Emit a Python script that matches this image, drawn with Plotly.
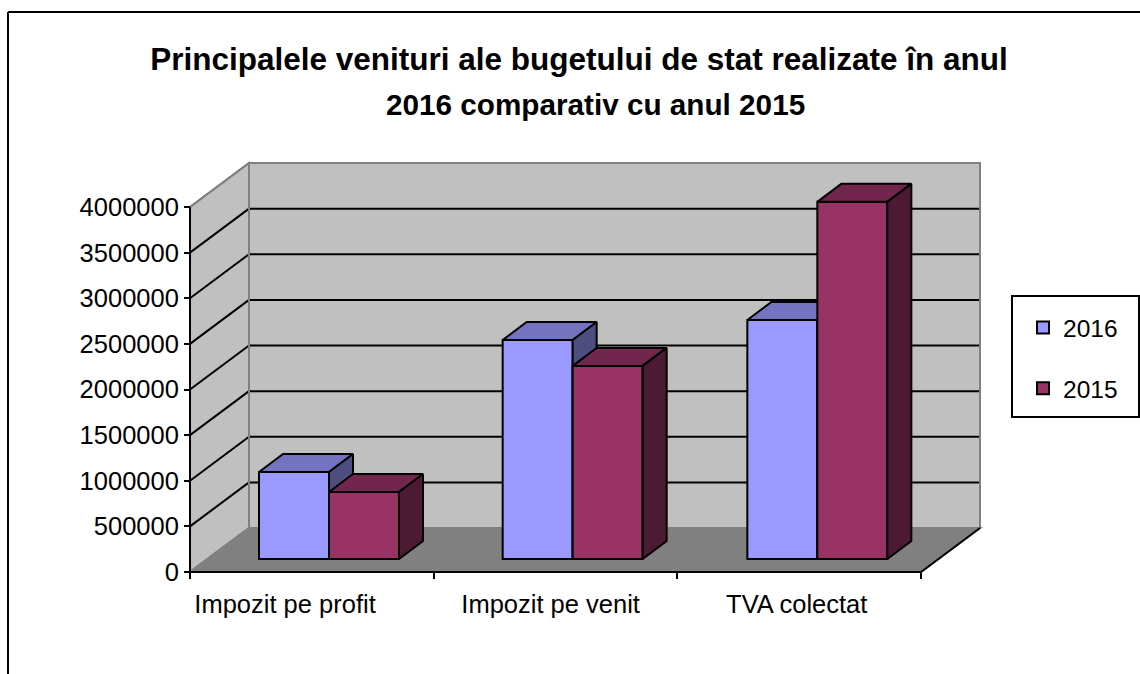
import plotly.graph_objects as go

categories = ["Impozit pe profit", "Impozit pe venit", "TVA colectat"]
values_2016 = [954000, 2400000, 2620000]
values_2015 = [735000, 2116000, 3914000]
value_ticks = [0, 500000, 1000000, 1500000, 2000000, 2500000, 3000000, 3500000, 4000000]
title_lines = ["Principalele venituri ale bugetului de stat realizate în anul",
               "2016 comparativ cu anul 2015"]

W, H = 1140, 674
X0, X3, Y0, Y4M = 190.0, 921.0, 572.0, 207.0   # front plane in pixels
PAD = 10
PX_CAT = (X3 - X0) / 3
PX_VAL = (Y0 - Y4M) / 4000000
WALL_DX, WALL_DY = 59 / PX_CAT, 44 / PX_VAL    # depth of the floor
BAR_W = 70 / PX_CAT
BAR_SHIFT = [69 / PX_CAT, 69 / PX_CAT + 0.0, 70 / PX_CAT]
BAR_BASE = 13 / PX_VAL
BAR_DX, BAR_DY = 24 / PX_CAT, 18 / PX_VAL

L, R, T, B = X0 - PAD, X0 + 59 + (X3 - X0) + PAD, Y0 - 44 / 1 - (Y0 - Y4M) - PAD, Y0 + PAD
xrange_ = [-PAD / PX_CAT, (R - X0) / PX_CAT]
yrange_ = [-PAD / PX_VAL, (Y0 - T) / PX_VAL]
def px(x): return (x - L) / (R - L)
def py(y): return (B - y) / (B - T)

ymax = value_ticks[-1]
fig = go.Figure()
GREY = "#808080"
shapes = []
def poly(xs, ys, fill, line=None, width=2):
    path = "M" + "L".join(f"{a},{b}" for a, b in zip(xs, ys)) + "Z"
    shapes.append(dict(type="path", path=path, xref="x", yref="y", fillcolor=fill, layer="below",
                       line=dict(color=line or fill, width=width)))
def seg(x1, y1, x2, y2, color="black", width=2, layer="below"):
    shapes.append(dict(type="line", x0=x1, y0=y1, x1=x2, y1=y2, xref="x", yref="y", layer=layer,
                       line=dict(color=color, width=width)))

ncat = len(categories)
# walls and floor
poly([WALL_DX, ncat + WALL_DX, ncat + WALL_DX, WALL_DX], [WALL_DY, WALL_DY, ymax + WALL_DY, ymax + WALL_DY], "#C0C0C0", GREY)
poly([0, WALL_DX, WALL_DX, 0], [0, WALL_DY, ymax + WALL_DY, ymax], "#C0C0C0", GREY)
poly([0, ncat, ncat + WALL_DX, WALL_DX], [0, 0, WALL_DY, WALL_DY], "#808080", GREY)
# gridlines
for v in value_ticks[1:-1]:
    seg(0, v, WALL_DX, v + WALL_DY)
    seg(WALL_DX, v + WALL_DY, ncat + WALL_DX, v + WALL_DY)
for v in value_ticks[-1:]:
    seg(WALL_DX, v + WALL_DY, ncat + WALL_DX, v + WALL_DY)
# redraw wall edges in grey over the gridline ends
seg(WALL_DX, WALL_DY, WALL_DX, ymax + WALL_DY, GREY)
seg(ncat + WALL_DX, WALL_DY, ncat + WALL_DX, ymax + WALL_DY, GREY)
seg(WALL_DX, ymax + WALL_DY, ncat + WALL_DX, ymax + WALL_DY, GREY)
seg(0, ymax, WALL_DX, ymax + WALL_DY, GREY)
seg(0, 0, WALL_DX, WALL_DY, GREY)
# front axis lines
seg(0, 0, 0, ymax, "black", 2, "above")
seg(0, 0, ncat, 0, "black", 2, "above")
seg(ncat, 0, ncat + WALL_DX, WALL_DY, "black", 2, "above")

def series(name, values, slot, front, top, side, ax):
    xs = [i + BAR_SHIFT[i] + slot * BAR_W for i in range(len(values))]
    fig.add_trace(go.Bar(x=xs, y=values, base=BAR_BASE, width=BAR_W, offset=0, name=name,
                         legendgroup=name, marker=dict(color=front, line=dict(color="black", width=2)),
                         xaxis=ax[0], yaxis=ax[1], hoverinfo="skip"))
    tx, ty, sx, sy = [], [], [], []
    for x, v in zip(xs, values):
        t = BAR_BASE + v
        tx += [x, x + BAR_DX, x + BAR_W + BAR_DX, x + BAR_W, x, None]
        ty += [t, t + BAR_DY, t + BAR_DY, t, t, None]
        sx += [x + BAR_W, x + BAR_W + BAR_DX, x + BAR_W + BAR_DX, x + BAR_W, x + BAR_W, None]
        sy += [t, t + BAR_DY, BAR_BASE + BAR_DY, BAR_BASE, t, None]
    for px_, py_, c in ((tx, ty, top), (sx, sy, side)):
        fig.add_trace(go.Scatter(x=px_, y=py_, mode="lines", fill="toself", fillcolor=c,
                                 line=dict(color="black", width=2), showlegend=False,
                                 legendgroup=name, hoverinfo="skip", xaxis=ax[0], yaxis=ax[1]))

series("2016", values_2016, 0, "#9999FF", "#7373BF", "#4D4D80", ("x", "y"))
series("2015", values_2015, 1, "#993366", "#73264D", "#4D1A33", ("x2", "y2"))

# chart border (runs off the right and bottom of the picture)
for a, b, c, d in ((8, 12, W + 5, 12), (8, 12, 8, H + 5)):
    shapes.append(dict(type="line", xref="paper", yref="paper", x0=px(a), y0=py(b), x1=px(c), y1=py(d),
                       line=dict(color="black", width=2)))
# legend frame
shapes.append(dict(type="rect", xref="paper", yref="paper", x0=px(1012), y0=py(296), x1=px(1139), y1=py(417),
                   fillcolor="white", line=dict(color="black", width=2)))

FONT = "Liberation Sans, Arial, sans-serif"
AXF = dict(family=FONT, size=25.5, color="black")
fig.update_layout(
    width=W, height=H, margin=dict(l=L, r=W - R, t=T, b=H - B, pad=0, autoexpand=False),
    paper_bgcolor="white", plot_bgcolor="white", shapes=shapes, barmode="overlay",
    title=dict(text=f"<b>{title_lines[0]}</b>", x=579 / W, xanchor="center", xref="container",
               y=1 - 59 / H, yanchor="middle", yref="container", font=dict(family=FONT, size=31.5, color="black")),
    annotations=[dict(text=f"<b>{title_lines[1]}</b>", xref="paper", yref="paper", x=px(595), y=py(104),
                      xanchor="center", yanchor="middle", showarrow=False,
                      font=dict(family=FONT, size=29.7, color="black"))],
    xaxis=dict(range=xrange_, anchor="free", position=py(Y0), showgrid=False, zeroline=False, showline=False,
               tickmode="array", tickvals=[0.39, 1.48, 2.49], ticktext=categories, ticks="", tickfont=AXF,
               ticklabelstandoff=14,
               minor=dict(tickmode="array", tickvals=list(range(ncat + 1)), ticks="outside", ticklen=6,
                          tickwidth=2, tickcolor="black", showgrid=False)),
    yaxis=dict(range=yrange_, anchor="free", position=px(X0), showgrid=False, zeroline=False, showline=False,
               tickmode="array", tickvals=value_ticks, ticktext=[str(v) for v in value_ticks], ticks="outside",
               ticklen=6, tickwidth=2, tickcolor="black", tickfont=AXF),
    xaxis2=dict(range=xrange_, overlaying="x", visible=False, anchor="y2"),
    yaxis2=dict(range=yrange_, overlaying="y", visible=False, anchor="x2"),
    legend=dict(x=px(1023), y=py(305), xanchor="left", yanchor="top", borderwidth=0,
                bgcolor="rgba(0,0,0,0)", font=dict(family=FONT, size=24.5, color="black"),
                tracegroupgap=26, traceorder="grouped", itemclick=False, itemdoubleclick=False),
)
fig.write_html("out.html", post_script="document.body.style.margin='0';", config={"displayModeBar": False})
